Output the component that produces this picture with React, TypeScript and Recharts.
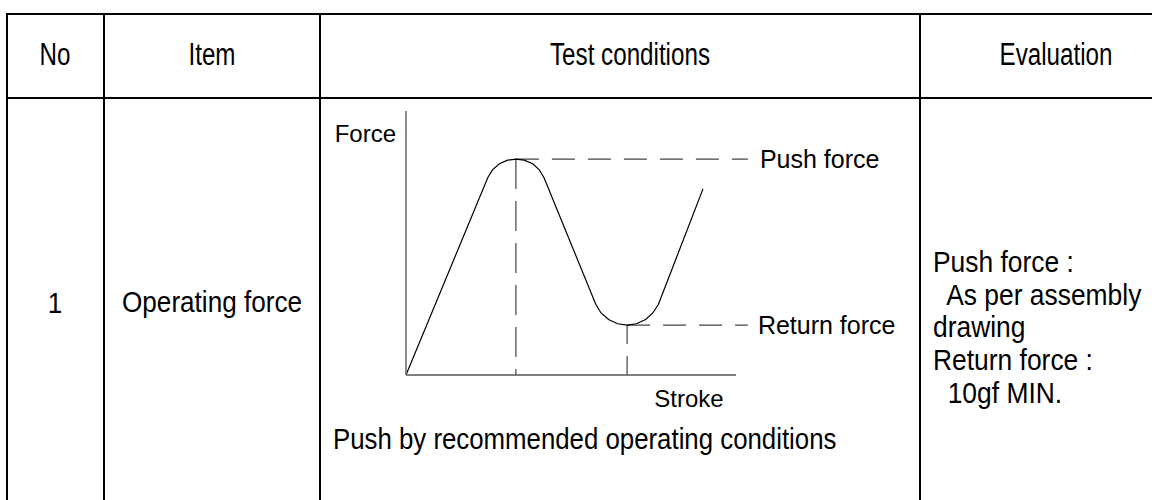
import React from 'react'
import { LineChart, Line, XAxis, YAxis, ReferenceLine } from 'recharts'

// curve (stroke 0..100 along the axis, force 0..100 up the axis)
const strokeVals = [0, 24.8, 26.2, 28.3, 30.8, 33.3, 35.8, 38.4, 40.4, 41.8, 57.5, 59.1, 61.4, 64.1, 67.0, 69.8, 72.6, 74.8, 76.5, 90.0]
const forceVals = [0, 74.8, 77.7, 80.0, 81.4, 81.8, 81.4, 80.0, 77.7, 74.8, 26.8, 23.5, 21.0, 19.4, 18.9, 19.4, 21.0, 23.5, 26.8, 70.5]
const peakIndex = 5
const troughIndex = 14
const dashEnd = 103.6

const headers = ['No', 'Item', 'Test conditions', 'Evaluation']
const rowNo = '1'
const rowItem = 'Operating force'
const conditionNote = 'Push by recommended operating conditions'
const evaluationLines = ['Push force :', '  As per assembly', 'drawing', 'Return force :', '  10gf MIN.']

const data = strokeVals.map((s, i) => ({ stroke: s, force: forceVals[i] }))

const FONT = '"Liberation Sans", Arial, sans-serif'

function Txt({ x, y, size, sx, center, children }: any) {
  return (
    <div
      style={{
        position: 'absolute',
        left: x,
        top: y,
        fontFamily: FONT,
        fontSize: size,
        whiteSpace: 'pre',
        color: '#000',
        transformOrigin: center ? 'center center' : 'left center',
        transform: center ? `translate(-50%, -50%) scaleX(${sx})` : `translateY(-50%) scaleX(${sx})`,
      }}
    >
      {children}
    </div>
  )
}

function HLine({ y }: { y: number }) {
  return <div style={{ position: 'absolute', left: 6, right: 0, top: y - 1.25, height: 2.5, background: '#000' }} />
}
function VLine({ x }: { x: number }) {
  return <div style={{ position: 'absolute', left: x - 1.25, top: 12.75, bottom: 0, width: 2.5, background: '#000' }} />
}

const labelStyle = { fill: '#000', fontSize: 24, fontFamily: FONT }
const refLabelStyle = { fill: '#000', fontSize: 25, fontFamily: FONT }

function ForceLabel(props: any) {
  const vb = props.viewBox
  return (
    <text x={vb.x + vb.width - 10} y={vb.y + 22} textAnchor="end" dominantBaseline="central" {...labelStyle}>
      Force
    </text>
  )
}
function StrokeLabel(props: any) {
  const vb = props.viewBox
  return (
    <text x={vb.x + vb.width - 47} y={vb.y + 23} textAnchor="middle" dominantBaseline="central" {...labelStyle}>
      Stroke
    </text>
  )
}

function ForceChart() {
  const px = strokeVals[peakIndex]
  const py = forceVals[peakIndex]
  const tx = strokeVals[troughIndex]
  const ty = forceVals[troughIndex]
  return (
    <LineChart width={600} height={320} data={data} margin={{ top: 13, right: 184, bottom: 13, left: 26 }}>
      <XAxis
        dataKey="stroke"
        type="number"
        domain={[0, 100]}
        height={30}
        tick={false}
        tickLine={false}
        axisLine={{ stroke: '#555', strokeWidth: 1.5 }}
        label={StrokeLabel}
      />
      <YAxis
        type="number"
        domain={[0, 100]}
        width={60}
        tick={false}
        tickLine={false}
        axisLine={{ stroke: '#666', strokeWidth: 1.5 }}
        label={ForceLabel}
      />
      <ReferenceLine
        segment={[{ x: px, y: py }, { x: dashEnd, y: py }]}
        ifOverflow="visible"
        stroke="#444"
        strokeWidth={1.2}
        strokeDasharray="23 13"
        label={{ value: 'Push force', position: 'right', offset: 12, ...refLabelStyle }}
      />
      <ReferenceLine
        segment={[{ x: px, y: py }, { x: px, y: 0 }]}
        ifOverflow="visible"
        stroke="#444"
        strokeWidth={1.2}
        strokeDasharray="30 12"
      />
      <ReferenceLine
        segment={[{ x: tx, y: ty }, { x: dashEnd, y: ty }]}
        ifOverflow="visible"
        stroke="#444"
        strokeWidth={1.2}
        strokeDasharray="23 13"
        label={{ value: 'Return force', position: 'right', offset: 10, ...refLabelStyle }}
      />
      <ReferenceLine
        segment={[{ x: tx, y: ty }, { x: tx, y: 0 }]}
        ifOverflow="visible"
        stroke="#444"
        strokeWidth={1.2}
        strokeDasharray="19 12"
      />
      <Line
        type="linear"
        dataKey="force"
        stroke="#000"
        strokeWidth={1.2}
        dot={false}
        isAnimationActive={false}
      />
    </LineChart>
  )
}

export default function App() {
  const headerX = [55, 212, 630, 1056]
  const evalY = [262, 295, 327, 360, 393]
  return (
    <div style={{ position: 'absolute', left: 0, top: 0, width: 1152, height: 500, overflow: 'hidden', background: '#fff' }}>
      <HLine y={14} />
      <HLine y={98} />
      <VLine x={7} />
      <VLine x={104} />
      <VLine x={320} />
      <VLine x={920} />

      {headers.map((h, i) => (
        <Txt key={h} x={headerX[i]} y={55} size={31} sx={0.78} center>
          {h}
        </Txt>
      ))}

      <Txt x={55} y={303} size={30} sx={0.87} center>
        {rowNo}
      </Txt>
      <Txt x={212} y={302} size={30} sx={0.87} center>
        {rowItem}
      </Txt>

      <div style={{ position: 'absolute', left: 320, top: 98 }}>
        <ForceChart />
      </div>

      <Txt x={333} y={439} size={30} sx={0.86}>
        {conditionNote}
      </Txt>

      {evaluationLines.map((l, i) => (
        <Txt key={i} x={933} y={evalY[i]} size={30} sx={0.88}>
          {l}
        </Txt>
      ))}
    </div>
  )
}
